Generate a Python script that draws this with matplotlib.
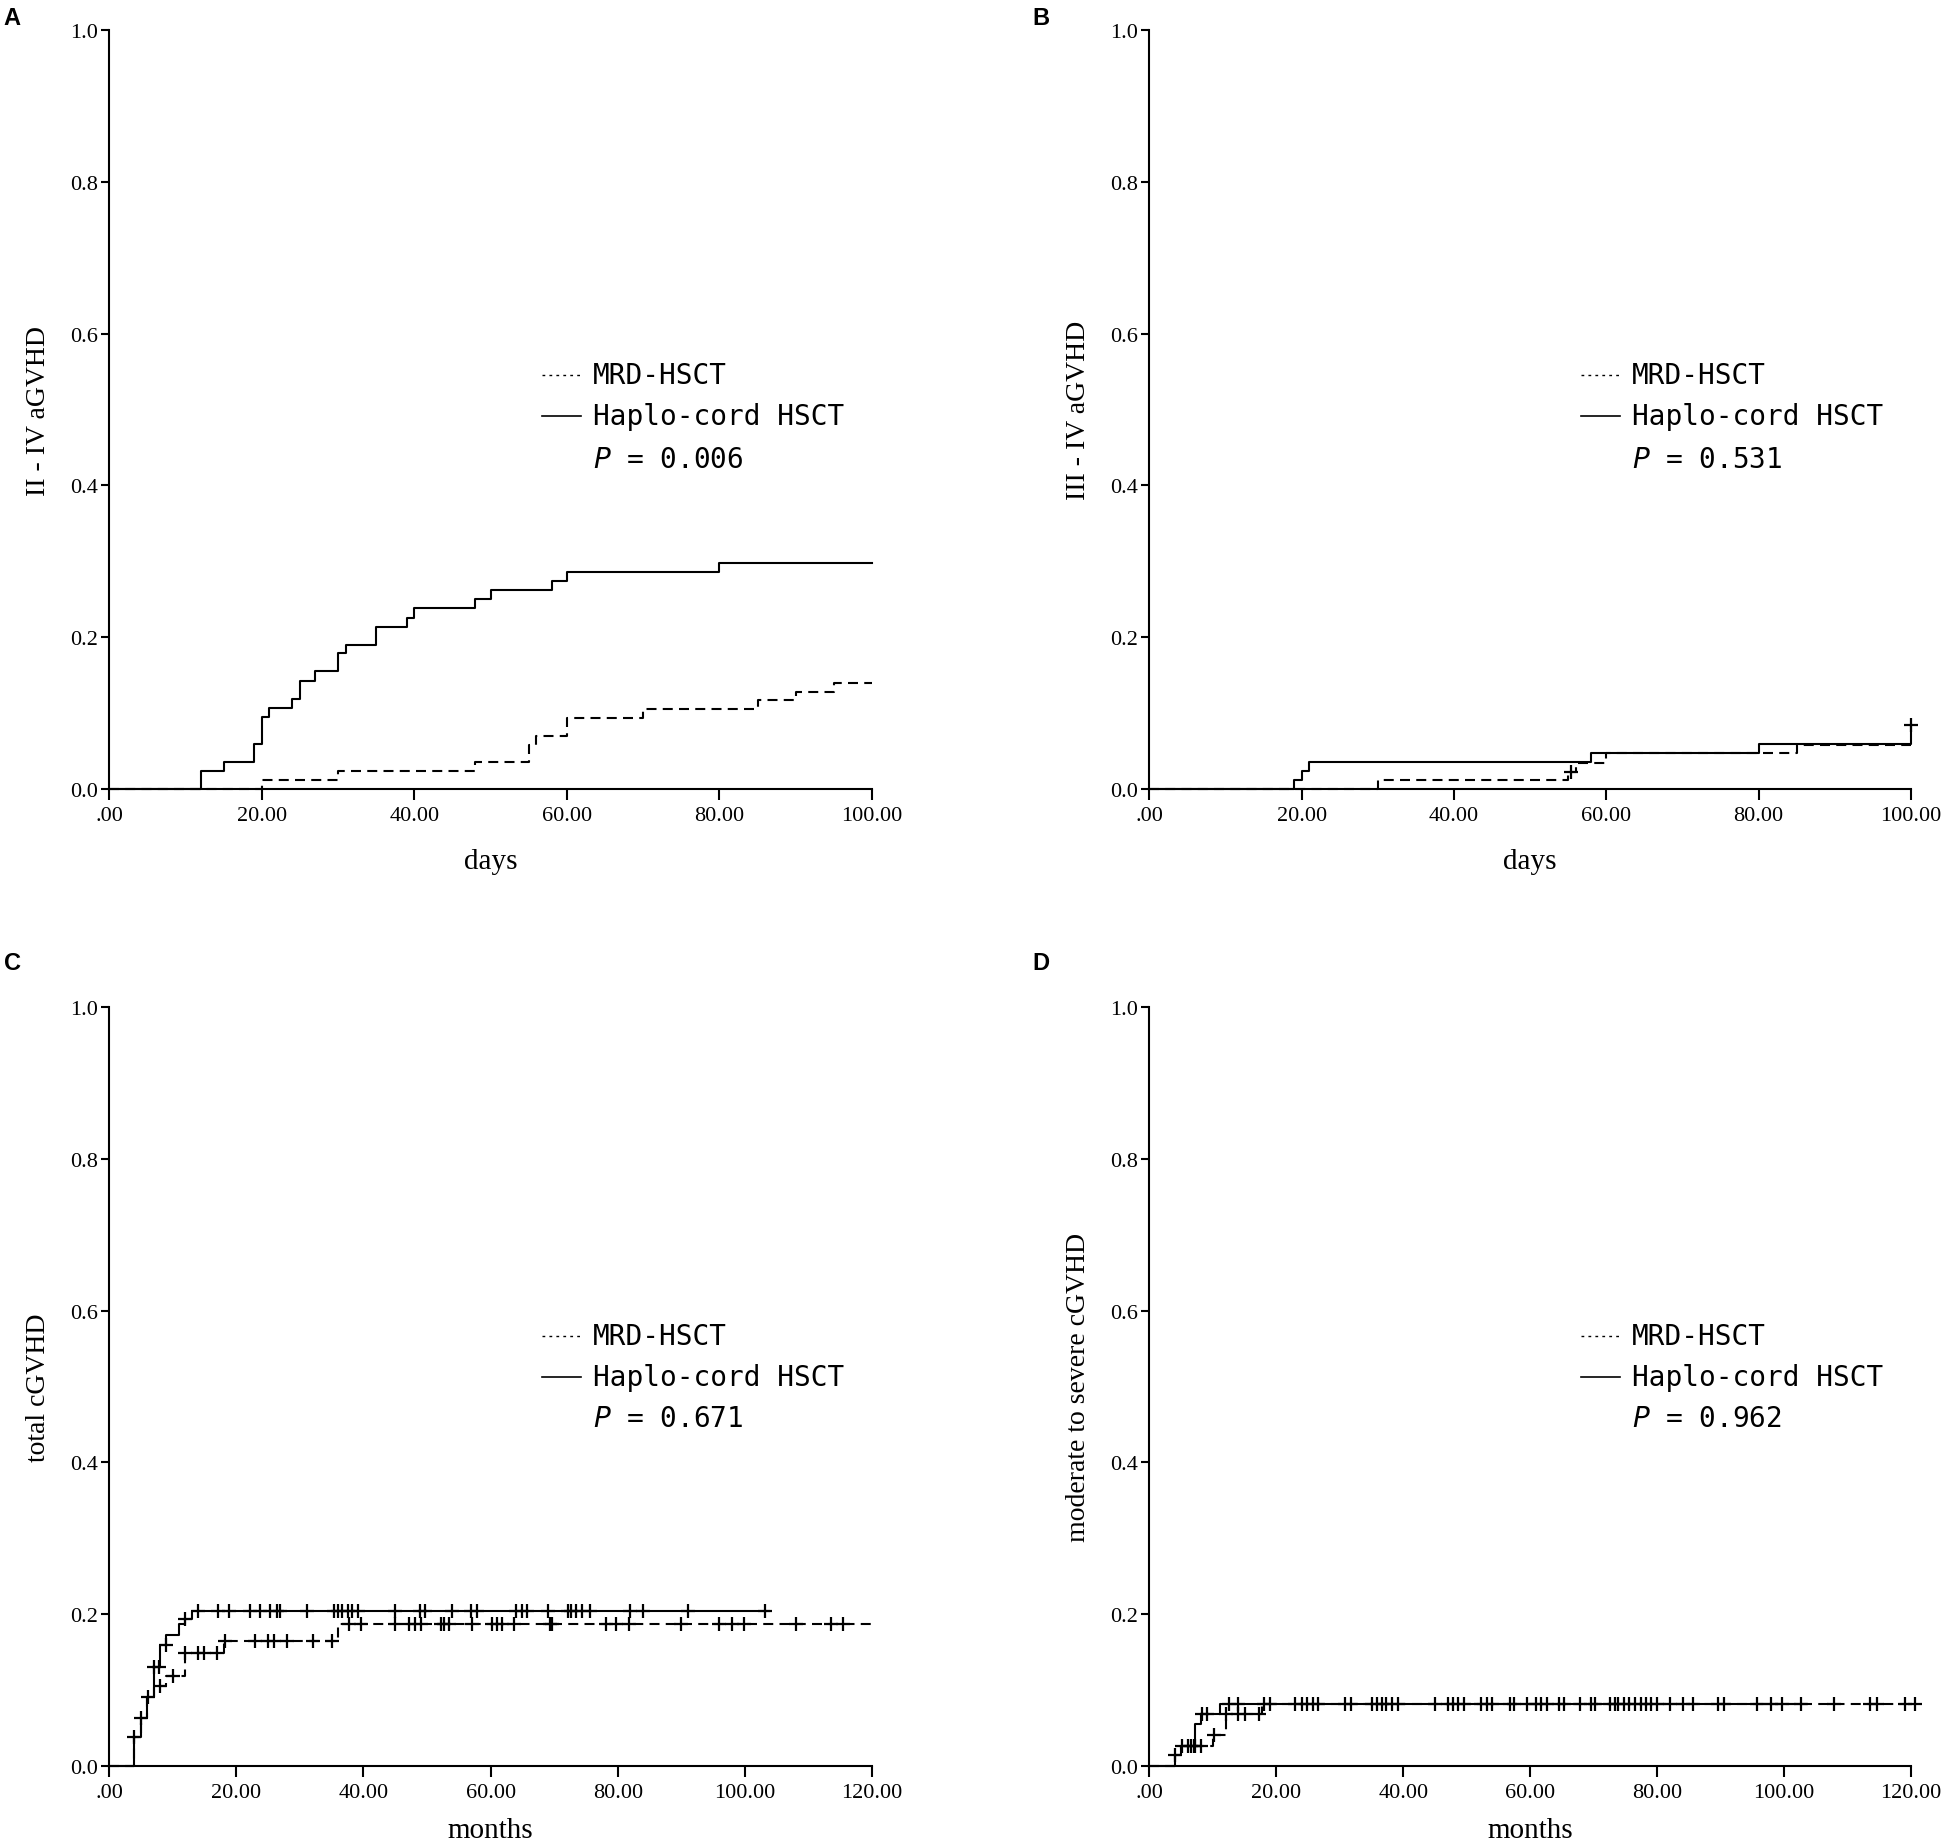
import matplotlib.pyplot as plt

# ---- data ----
# panel A: II-IV aGVHD (days)
a_hap_t = [12, 15, 19, 20, 21, 24, 25, 27, 30, 31, 35, 39, 40, 48, 50, 58, 60, 80]
a_hap_v = [0.024, 0.036, 0.060, 0.095, 0.107, 0.119, 0.143, 0.155, 0.179, 0.190,
           0.214, 0.226, 0.238, 0.250, 0.262, 0.274, 0.286, 0.298]
a_hap_end = 100
a_mrd_t = [20, 30, 48, 55, 56, 60, 70, 85, 90, 95]
a_mrd_v = [0.012, 0.024, 0.036, 0.058, 0.070, 0.093, 0.105, 0.117, 0.128, 0.140]
a_mrd_end = 100

# panel B: III-IV aGVHD (days)
b_hap_t = [19, 20, 21, 58, 80, 100]
b_hap_v = [0.012, 0.024, 0.036, 0.048, 0.060, 0.084]
b_hap_end = 100
b_hap_cens = [(100, 0.084)]
b_mrd_t = [30, 55, 56, 60, 85]
b_mrd_v = [0.012, 0.023, 0.035, 0.047, 0.058]
b_mrd_end = 100
b_mrd_cens = [(55.3, 0.023)]

# panel C: total cGVHD (months)
c_hap_t = [4, 5, 6, 7, 8, 9, 11, 12, 13]
c_hap_v = [0.038, 0.064, 0.091, 0.131, 0.160, 0.173, 0.187, 0.194, 0.204]
c_hap_end = 103.8
c_hap_cens_x = [4.0, 5.0, 6.1, 7.0, 7.9, 8.9, 12.0,
                14, 17.1, 18.8, 22.1, 23.7, 25.3, 26.4, 26.9, 31.1, 35.4, 36, 36.7,
                37.5, 38.2, 39.2, 44.9, 48.9, 49.7, 53.9, 56.9, 57.8, 64, 65, 65.7,
                69, 72.1, 72.7, 73.5, 74.4, 75.7, 81.9, 84, 91, 103.2]
c_mrd_t = [4, 5, 6, 7, 9, 12, 18, 36]
c_mrd_v = [0.038, 0.064, 0.091, 0.105, 0.119, 0.149, 0.165, 0.187]
c_mrd_end = 120
c_mrd_cens_x = [8, 10, 12, 14, 15, 17, 18.2, 23, 25, 26, 28, 32, 35,
                37.7, 39.6, 45, 47.1, 48.1, 49, 52.2, 52.7, 53.5, 57.1, 60.3, 61,
                61.8, 63.7, 69.3, 69.7, 78.1, 79.7, 81.7, 90, 96, 98, 99.8, 108.1,
                113.6, 115.4]

# panel D: moderate to severe cGVHD (months)
d_hap_t = [4, 5, 7.2, 8.1, 11.1]
d_hap_v = [0.014, 0.027, 0.055, 0.068, 0.082]
d_hap_end = 103.5
d_hap_cens_x = [4.0, 7.0, 8.3, 9.1, 12.5, 14.0, 18, 22.9, 24.9, 26.6, 31.7, 35.8,
                37.3, 39.1, 47, 48.6, 52.3, 53.9, 57.5, 60.9, 62.6, 65.4, 69.6,
                72.6, 73.9, 75.6, 77.4, 79.1, 82, 85.7, 90.5, 97.9, 102.7]
d_mrd_t = [4, 5, 10, 12, 17.8]
d_mrd_v = [0.014, 0.027, 0.041, 0.069, 0.082]
d_mrd_end = 120.6
d_mrd_cens_x = [5.1, 6.1, 6.6, 7.2, 8.1, 10.2, 12.1, 14.0, 15.0, 17.3, 19, 24,
                25.7, 30.8, 35.1, 36.6, 38.2, 45, 47.9, 49.5, 53.2, 56.8, 59.5,
                61.7, 64.5, 67.8, 70.2, 73.3, 74.8, 76.5, 78.3, 80, 84, 89.6, 95.7,
                99.7, 107.8, 113.6, 114.7, 119.1, 120.6]

y_ticks = [0.0, 0.2, 0.4, 0.6, 0.8, 1.0]
y_tick_labels = ["0.0", "0.2", "0.4", "0.6", "0.8", "1.0"]
day_ticks = [0, 20, 40, 60, 80, 100]
day_labels = [".00", "20.00", "40.00", "60.00", "80.00", "100.00"]
month_ticks = [0, 20, 40, 60, 80, 100, 120]
month_labels = [".00", "20.00", "40.00", "60.00", "80.00", "100.00", "120.00"]

legend_names = ["MRD-HSCT", "Haplo-cord HSCT"]
p_values = ["0.006", "0.531", "0.671", "0.962"]
y_titles = ["II - IV aGVHD", "III - IV aGVHD", "total cGVHD", "moderate to severe cGVHD"]
x_titles = ["days", "days", "months", "months"]
panel_letters = ["A", "B", "C", "D"]

DASH = (0, (4.8, 3.0))
SERIF = "Liberation Serif"
MONO = "DejaVu Sans Mono"


def step_xy(t, v, end):
    xs = [0] + list(t) + [end]
    ys = [0] + list(v) + [v[-1]]
    return xs, ys


def level_at(t, v, x):
    y = 0
    for ti, vi in zip(t, v):
        if x >= ti:
            y = vi
    return y


def draw_curve(ax, t, v, end, ls, cens_x=None, cens_pts=None):
    xs, ys = step_xy(t, v, end)
    ax.step(xs, ys, where="post", color="black", lw=1.5, linestyle=ls, clip_on=False)
    pts = []
    if cens_x:
        pts = [(x, level_at(t, v, x)) for x in cens_x]
    if cens_pts:
        pts = pts + list(cens_pts)
    if pts:
        ax.plot([p[0] for p in pts], [p[1] for p in pts], linestyle="none",
                marker="+", markersize=10, markeredgewidth=1.6, color="black",
                clip_on=False)


def style_axes(ax, xmax, ticks, labels, ytitle, xtitle, pval, leg_y, xlab_y):
    ax.set_xlim(0, xmax)
    ax.set_ylim(0, 1)
    ax.spines["top"].set_visible(False)
    ax.spines["right"].set_visible(False)
    ax.spines["left"].set_linewidth(1.5)
    ax.spines["bottom"].set_linewidth(1.5)
    ax.set_xticks(ticks)
    ax.set_xticklabels(labels, fontfamily=SERIF, fontsize=16)
    ax.set_yticks(y_ticks)
    ax.set_yticklabels(y_tick_labels, fontfamily=SERIF, fontsize=16)
    ax.tick_params(axis="x", direction="out", length=8, width=1.5, pad=4)
    ax.tick_params(axis="y", direction="out", length=6, width=1.5, pad=2)
    ax.set_ylabel(ytitle, fontfamily=SERIF, fontsize=20, va="center")
    ax.yaxis.set_label_coords(-0.093, 0.5)
    ax.set_xlabel(xtitle, fontfamily=SERIF, fontsize=21, va="center")
    ax.xaxis.set_label_coords(0.5, xlab_y)

    # legend drawn as in the original figure
    ax.plot([0.567, 0.618], [leg_y[0], leg_y[0]], transform=ax.transAxes,
            color="black", lw=1.0, linestyle=(0, (2, 3)), clip_on=False)
    ax.plot([0.567, 0.618], [leg_y[1], leg_y[1]], transform=ax.transAxes,
            color="black", lw=1.2, clip_on=False)
    ax.text(0.634, leg_y[0], legend_names[0], transform=ax.transAxes,
            va="center", fontsize=20, fontfamily=MONO)
    ax.text(0.634, leg_y[1], legend_names[1], transform=ax.transAxes,
            va="center", fontsize=20, fontfamily=MONO)
    ax.text(0.634, leg_y[2], "$P$ = " + pval, transform=ax.transAxes,
            va="center", fontsize=20, fontfamily=MONO)


def main():
    fig = plt.figure(figsize=(19.44, 18.49), dpi=100)
    plt.rcParams["mathtext.fontset"] = "dejavusans"

    axA = fig.add_axes([0.0561, 0.5727, 0.3925, 0.4105])
    axB = fig.add_axes([0.5913, 0.5727, 0.3917, 0.4105])
    axC = fig.add_axes([0.0561, 0.0443, 0.3925, 0.4105])
    axD = fig.add_axes([0.5913, 0.0443, 0.3917, 0.4105])

    draw_curve(axA, a_mrd_t, a_mrd_v, a_mrd_end, DASH)
    draw_curve(axA, a_hap_t, a_hap_v, a_hap_end, "-")

    draw_curve(axB, b_mrd_t, b_mrd_v, b_mrd_end, DASH, cens_pts=b_mrd_cens)
    draw_curve(axB, b_hap_t, b_hap_v, b_hap_end, "-", cens_pts=b_hap_cens)

    draw_curve(axC, c_mrd_t, c_mrd_v, c_mrd_end, DASH, cens_x=c_mrd_cens_x)
    draw_curve(axC, c_hap_t, c_hap_v, c_hap_end, "-", cens_x=c_hap_cens_x)

    draw_curve(axD, d_mrd_t, d_mrd_v, d_mrd_end, DASH, cens_x=d_mrd_cens_x)
    draw_curve(axD, d_hap_t, d_hap_v, d_hap_end, "-", cens_x=d_hap_cens_x)

    top_leg = [0.546, 0.491, 0.435]
    bot_leg = [0.567, 0.513, 0.459]
    style_axes(axA, 100, day_ticks, day_labels, y_titles[0], x_titles[0], p_values[0], top_leg, -0.095)
    style_axes(axB, 100, day_ticks, day_labels, y_titles[1], x_titles[1], p_values[1], top_leg, -0.095)
    style_axes(axC, 120, month_ticks, month_labels, y_titles[2], x_titles[2], p_values[2], bot_leg, -0.084)
    style_axes(axD, 120, month_ticks, month_labels, y_titles[3], x_titles[3], p_values[3], bot_leg, -0.084)

    letter_pos = [(0.002, 0.996), (0.531, 0.996), (0.002, 0.485), (0.531, 0.485)]
    for letter, (lx, ly) in zip(panel_letters, letter_pos):
        fig.text(lx, ly, letter, fontsize=17, fontweight="bold",
                 fontfamily="Liberation Sans", ha="left", va="top")

    fig.savefig("out.png", dpi=100, facecolor="white")


if __name__ == "__main__":
    main()
